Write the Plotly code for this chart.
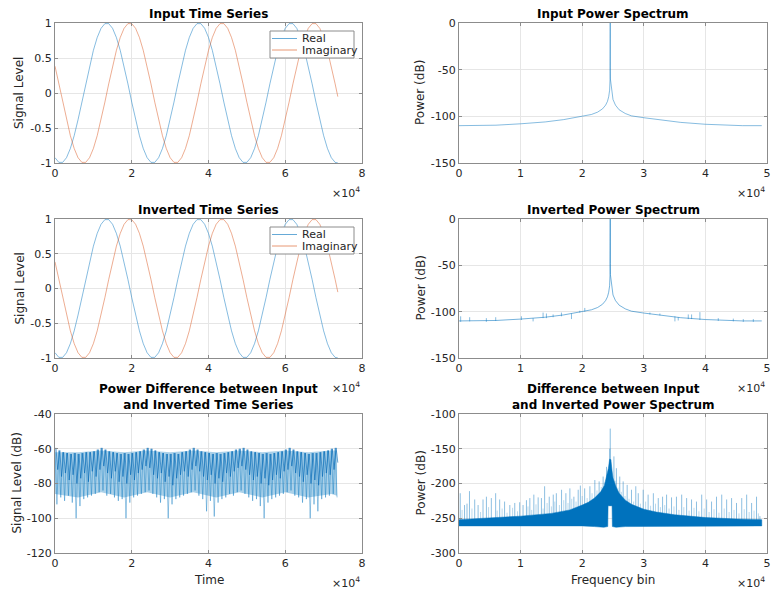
import plotly.graph_objects as go

# ---------------- data ----------------
time_index = list(range(0, 74000, 1000)) + [73700]

real_part = [
    -0.924, -0.991, -0.991, -0.924, -0.793, -0.609, -0.383, -0.131, 0.131, 0.383,
    0.609, 0.793, 0.924, 0.991, 0.991, 0.924, 0.793, 0.609, 0.383, 0.131,
    -0.131, -0.383, -0.609, -0.793, -0.924, -0.991, -0.991, -0.924, -0.793, -0.609,
    -0.383, -0.131, 0.131, 0.383, 0.609, 0.793, 0.924, 0.991, 0.991, 0.924,
    0.793, 0.609, 0.383, 0.131, -0.131, -0.383, -0.609, -0.793, -0.924, -0.991,
    -0.991, -0.924, -0.793, -0.609, -0.383, -0.131, 0.131, 0.383, 0.609, 0.793,
    0.924, 0.991, 0.991, 0.924, 0.793, 0.609, 0.383, 0.131, -0.131, -0.383,
    -0.609, -0.793, -0.924, -0.991, -0.999]
imag_part = [
    0.383, 0.131, -0.131, -0.383, -0.609, -0.793, -0.924, -0.991, -0.991, -0.924,
    -0.793, -0.609, -0.383, -0.131, 0.131, 0.383, 0.609, 0.793, 0.924, 0.991,
    0.991, 0.924, 0.793, 0.609, 0.383, 0.131, -0.131, -0.383, -0.609, -0.793,
    -0.924, -0.991, -0.991, -0.924, -0.793, -0.609, -0.383, -0.131, 0.131, 0.383,
    0.609, 0.793, 0.924, 0.991, 0.991, 0.924, 0.793, 0.609, 0.383, 0.131,
    -0.131, -0.383, -0.609, -0.793, -0.924, -0.991, -0.991, -0.924, -0.793, -0.609,
    -0.383, -0.131, 0.131, 0.383, 0.609, 0.793, 0.924, 0.991, 0.991, 0.924,
    0.793, 0.609, 0.383, 0.131, -0.052]
legend_labels = ['Real', 'Imaginary']

spec_bin = [0, 3000, 6000, 10000, 14000, 17000, 20000, 21500, 22500, 23300, 23800,
            24100, 24300, 24450, 24520, 24540, 24550, 24560, 24580, 24650, 24800,
            25000, 25400, 26000, 27000, 28000, 30000, 33000, 36000, 40000, 43000,
            46000, 49150]
spec_db = [-110, -110, -109.5, -108, -106, -103.5, -100, -98, -95.5, -92, -88,
           -84, -79, -72, -60, -48, 0, -48, -60, -64, -75,
           -82, -88, -93, -97, -99.5, -101.5, -104, -106.5, -108.5, -109.5,
           -110, -110]

inv_spike_bin = [270, 1730, 4440, 5960, 10130, 12030, 13650, 14190, 15280, 16630,
                 18260, 19610, 20420, 30990, 32610, 35050, 35590, 37220, 37760,
                 39110, 42090, 44530, 46150, 47780]
inv_spike_lo = [-111, -110.5, -111, -110, -109, -110.5, -107, -107, -106, -105,
                -108, -101, -100, -103, -104, -110.5, -109.5, -108, -108,
                -109, -110, -110.5, -111, -111]
inv_spike_hi = [-105, -106, -107, -106, -105, -107, -101, -102, -103, -101,
                -102, -99, -96, -101, -102, -105, -106, -103, -103,
                -100.5, -107, -107.5, -108, -108]

pd_peak_db = [
    -59.5, -61, -62, -62.5, -63, -62.5, -63, -62.5, -62, -62,
    -61.5, -60.5, -59.5, -60.5, -61.5, -62, -62.5, -63, -62.5, -63,
    -62.5, -62, -61.5, -60.5, -59.5, -60, -61, -62, -62.5, -63,
    -63, -62.5, -63, -62, -61.5, -60.5, -59.5, -60.5, -61.5, -62,
    -62.5, -63, -62.5, -63, -62.5, -62, -61.5, -60.5, -60, -59.5,
    -60.5, -61.5, -62, -62.5, -63, -62.5, -63, -62.5, -62, -61.5,
    -60.5, -59.5, -60.5, -61.5, -62, -62.5, -63, -62.5, -62.5, -62,
    -61.5, -61, -60, -59.5]
pd_deep_db = [
    -92, -88, -90, -87, -91, -100, -93, -89, -88, -87,
    -86, -85, -84, -87, -86, -88, -90, -89, -100, -91,
    -88, -87, -86, -85, -84, -86, -88, -91, -89, -100,
    -92, -89, -88, -87, -86, -85, -84, -87, -89, -96,
    -90, -99, -91, -89, -88, -86, -87, -85, -84, -86,
    -88, -90, -89, -93, -100, -91, -89, -88, -87, -86,
    -85, -84, -87, -88, -91, -89, -100, -92, -96, -89,
    -88, -87, -86, -88]
pd_shallow_db = [
    -72, -76, -74, -78, -75, -80, -77, -74, -79, -73,
    -76, -72, -70, -74, -77, -73, -79, -76, -80, -75,
    -78, -74, -72, -70, -71, -75, -77, -74, -79, -76,
    -81, -77, -75, -73, -76, -72, -70, -73, -76, -78,
    -75, -80, -77, -79, -74, -76, -73, -71, -70, -72,
    -75, -78, -76, -80, -77, -81, -78, -75, -77, -73,
    -72, -70, -74, -76, -79, -75, -80, -78, -81, -76,
    -74, -75, -72, -68]
pd_floor_time = [0, 6000, 12000, 18000, 24000, 30000, 36000, 42000, 48000, 54000, 60000, 66000, 72000, 73500]
pd_floor_db = [-86, -88, -85, -88, -85, -88, -85, -88, -85, -88, -85, -88, -86, -87]
pd_ceiling_db = [-62, -62, -61, -62, -61, -62, -61, -62, -61, -62, -61, -62, -61, -61]

diff_env_bin = [0, 5000, 10000, 15000, 18000, 20000, 21000, 22000, 23000, 23600, 24000,
                24250, 24450, 24650, 24850, 25000, 25500, 26000, 27000, 28000, 30000,
                32000, 35000, 40000, 45000, 49150]
diff_env_top_db = [-252, -250, -247, -243, -238, -231, -227, -221, -212, -203, -190,
                   -178, -165, -166, -182, -192, -205, -214, -224, -230, -237,
                   -241, -245, -249, -251, -252]
diff_floor_bin = [49150, 30000, 27000, 25500, 24900, 24850, 24200, 24150, 23500, 22000, 20000, 0]
diff_floor_db = [-261, -261, -262, -263, -262, -232, -232, -262, -263, -262, -261, -261]

diff_spike_bin = [200, 900, 1300, 1700, 2550, 3100, 3900, 4450, 5250, 5950,
                  6600, 7400, 8250, 9050, 9850, 10400, 10950, 11500, 12150, 12850,
                  13380, 13900, 14650, 15300, 15800, 16650, 17350, 18000, 18650, 19350,
                  19700, 20400, 21250, 22050, 22750, 23400, 23950, 25150, 25550, 26100,
                  26650, 27300, 28000, 28700, 29100, 29900, 30700, 31550, 32350, 33050,
                  33700, 34500, 35300, 36150, 36950, 37750, 38550, 39400, 40200, 41000,
                  41800, 42650, 43450, 44250, 45050, 45900, 46700, 47500, 48300, 48850]
diff_spike_db = [-214, -231, -229, -211, -223, -231, -223, -219, -221, -214,
                 -223, -226, -231, -228, -227, -231, -224, -221, -216, -220,
                 -221, -204, -219, -216, -214, -209, -214, -207, -219, -209,
                 -203, -207, -204, -195, -197, -190, -176, -161, -178, -190,
                 -197, -202, -209, -204, -214, -209, -216, -214, -221, -219,
                 -216, -220, -219, -216, -221, -223, -226, -216, -223, -226,
                 -219, -216, -223, -221, -228, -221, -216, -228, -219, -247]
diff_spike2_bin = [500, 2100, 3500, 4800, 6200, 7000, 7800, 8700, 9500, 11200,
                   11800, 12500, 13650, 14300, 15000, 15550, 16300, 17000, 17700, 18300,
                   19000, 20000, 20800, 21600, 22400, 23100, 23700, 25350, 25800, 26350,
                   26950, 27600, 28350, 29450, 30300, 31100, 31900, 32700, 33400, 34100,
                   34900, 35700, 36500, 37350, 38150, 38950, 39800, 40600, 41400, 42200,
                   43050, 43850, 44650, 45450, 46300, 47100, 47900, 48600]
diff_spike2_db = [-238, -236, -241, -234, -239, -236, -242, -235, -240, -233,
                  -238, -230, -236, -228, -233, -226, -231, -224, -228, -222,
                  -226, -218, -221, -214, -210, -205, -198, -196, -206, -212,
                  -218, -222, -226, -229, -226, -232, -229, -234, -231, -236,
                  -233, -238, -234, -239, -235, -240, -236, -241, -237, -242,
                  -236, -241, -238, -243, -237, -241, -239, -243]
diff_spike_base_db = -254
diff_peak_bin = [24350, 24480, 24550, 24620, 24750]
diff_peak_db = [-180, -150, -121, -165, -185]
diff_peak_base_db = -232

x_ticks_time = [0, 20000, 40000, 60000, 80000]
x_ticklabels_time = ['0', '2', '4', '6', '8']
x_ticks_freq = [0, 10000, 20000, 30000, 40000, 50000]
x_ticklabels_freq = ['0', '1', '2', '3', '4', '5']

BLUE = '#0072BD'
ORANGE = '#D95319'
BLUE_T = 'rgba(0,114,189,0.6)'
ORANGE_T = 'rgba(217,83,25,0.6)'
FONT = 'DejaVu Sans'
W, H = 773, 596


def segments(xs, lo, hi):
    sx, sy = [], []
    for i, x in enumerate(xs):
        l = lo[i] if isinstance(lo, list) else lo
        h = hi[i] if isinstance(hi, list) else hi
        sx += [x, x, None]
        sy += [l, h, None]
    return sx, sy


fig = go.Figure()

# time series (top-left, mid-left)
for xa, ya in [('x', 'y'), ('x3', 'y3')]:
    fig.add_trace(go.Scatter(x=time_index, y=real_part, mode='lines', name=legend_labels[0],
                             showlegend=False, line=dict(color=BLUE_T, width=0.8), xaxis=xa, yaxis=ya))
    fig.add_trace(go.Scatter(x=time_index, y=imag_part, mode='lines', name=legend_labels[1],
                             showlegend=False, line=dict(color=ORANGE_T, width=0.8), xaxis=xa, yaxis=ya))

# spectra
fig.add_trace(go.Scatter(x=spec_bin, y=spec_db, mode='lines', showlegend=False,
                         line=dict(color=BLUE_T, width=0.8), xaxis='x2', yaxis='y2'))
fig.add_trace(go.Scatter(x=spec_bin, y=spec_db, mode='lines', showlegend=False,
                         line=dict(color=BLUE_T, width=0.9), xaxis='x4', yaxis='y4'))
sx, sy = segments(inv_spike_bin, inv_spike_lo, inv_spike_hi)
fig.add_trace(go.Scatter(x=sx, y=sy, mode='lines', showlegend=False,
                         line=dict(color=BLUE_T, width=0.8), xaxis='x4', yaxis='y4'))

# power difference time series
fig.add_trace(go.Scatter(x=pd_floor_time, y=pd_floor_db, mode='lines', showlegend=False,
                         line=dict(width=0, color='rgba(0,0,0,0)'), xaxis='x5', yaxis='y5'))
fig.add_trace(go.Scatter(x=pd_floor_time, y=pd_ceiling_db, mode='lines', showlegend=False,
                         fill='tonexty', fillcolor='rgba(0,114,189,0.33)',
                         line=dict(width=0, color='rgba(0,0,0,0)'), xaxis='x5', yaxis='y5'))
zx, zy = [], []
for k, p in enumerate(pd_peak_db):
    zx += [k * 1000, k * 1000 + 500]
    zy += [p, pd_deep_db[k]]
fig.add_trace(go.Scatter(x=zx, y=zy, mode='lines', showlegend=False,
                         line=dict(color='rgba(0,114,189,0.5)', width=0.8), xaxis='x5', yaxis='y5'))
zx, zy = [], []
for k, p in enumerate(pd_peak_db):
    zx += [k * 1000 + 250, k * 1000 + 700]
    zy += [p, pd_shallow_db[k]]
fig.add_trace(go.Scatter(x=zx, y=zy, mode='lines', showlegend=False,
                         line=dict(color='rgba(0,100,180,0.75)', width=0.8), xaxis='x5', yaxis='y5'))

# difference power spectrum
sx, sy = segments(diff_spike2_bin, diff_spike_base_db, diff_spike2_db)
fig.add_trace(go.Scatter(x=sx, y=sy, mode='lines', showlegend=False,
                         line=dict(color='rgba(0,114,189,0.3)', width=0.9), xaxis='x6', yaxis='y6'))
sx, sy = segments(diff_spike_bin, diff_spike_base_db, diff_spike_db)
fig.add_trace(go.Scatter(x=sx, y=sy, mode='lines', showlegend=False,
                         line=dict(color='rgba(0,114,189,0.5)', width=0.9), xaxis='x6', yaxis='y6'))
sx, sy = segments(diff_peak_bin, diff_peak_base_db, diff_peak_db)
fig.add_trace(go.Scatter(x=sx, y=sy, mode='lines', showlegend=False,
                         line=dict(color='rgba(0,114,189,0.6)', width=0.8), xaxis='x6', yaxis='y6'))
fig.add_trace(go.Scatter(x=diff_env_bin + diff_floor_bin, y=diff_env_top_db + diff_floor_db,
                         mode='lines', fill='toself', fillcolor=BLUE, showlegend=False,
                         line=dict(color=BLUE, width=0.5), xaxis='x6', yaxis='y6'))

# ---------------- layout ----------------
XL = [55 / W, 362 / W]
XR = [459 / W, 767 / W]
YT = [1 - 163 / H, 1 - 23 / H]
YM = [1 - 358 / H, 1 - 219 / H]
YB = [1 - 553 / H, 1 - 414 / H]

def ax(domain, rng, tickvals, ticktext, anchor):
    return dict(domain=domain, range=rng, tickvals=tickvals, ticktext=ticktext, anchor=anchor,
                showline=True, linecolor='#8c8c8c', linewidth=1, mirror='ticks',
                ticks='inside', ticklen=3, tickcolor='#8c8c8c', automargin=False,
                showgrid=True, gridcolor='#e6e6e6', gridwidth=1, zeroline=False,
                tickfont=dict(family=FONT, size=11, color='#262626'), fixedrange=True)

ty1 = [-1, -0.5, 0, 0.5, 1]
tyl1 = ['-1', '-0.5', '0', '0.5', '1']
ty2 = [-150, -100, -50, 0]
ty5 = [-120, -100, -80, -60, -40]
ty6 = [-300, -250, -200, -150, -100]

layout = dict(
    width=W, height=H, margin=dict(l=0, r=0, t=0, b=0, pad=0), autosize=False,
    paper_bgcolor='white', plot_bgcolor='white', showlegend=False,
    font=dict(family=FONT, color='#262626'),
    xaxis=ax(XL, [0, 80000], x_ticks_time, x_ticklabels_time, 'y'),
    yaxis=ax(YT, [-1, 1], ty1, tyl1, 'x'),
    xaxis2=ax(XR, [0, 50000], x_ticks_freq, x_ticklabels_freq, 'y2'),
    yaxis2=ax(YT, [-150, 0], ty2, [str(v) for v in ty2], 'x2'),
    xaxis3=ax(XL, [0, 80000], x_ticks_time, x_ticklabels_time, 'y3'),
    yaxis3=ax(YM, [-1, 1], ty1, tyl1, 'x3'),
    xaxis4=ax(XR, [0, 50000], x_ticks_freq, x_ticklabels_freq, 'y4'),
    yaxis4=ax(YM, [-150, 0], ty2, [str(v) for v in ty2], 'x4'),
    xaxis5=ax(XL, [0, 80000], x_ticks_time, x_ticklabels_time, 'y5'),
    yaxis5=ax(YB, [-120, -40], ty5, [str(v) for v in ty5], 'x5'),
    xaxis6=ax(XR, [0, 50000], x_ticks_freq, x_ticklabels_freq, 'y6'),
    yaxis6=ax(YB, [-300, -100], ty6, [str(v) for v in ty6], 'x6'),
)

xcL = (XL[0] + XL[1]) / 2
xcR = (XR[0] + XR[1]) / 2

def py(pix):
    return 1 - pix / H

def px(pix):
    return pix / W

anns = []
shapes = []
def title(text, x, y):
    anns.append(dict(text=text, x=x, y=y, xref='paper', yref='paper', showarrow=False,
                     xanchor='center', yanchor='middle',
                     font=dict(family=FONT, size=12, color='black')))

def label(text, x, y, angle=0, size=12):
    anns.append(dict(text=text, x=x, y=y, xref='paper', yref='paper', showarrow=False,
                     xanchor='center', yanchor='middle', textangle=angle,
                     font=dict(family=FONT, size=size, color='#262626')))

title('<b>Input Time Series</b>', xcL, py(14))
title('<b>Input Power Spectrum</b>', xcR, py(14))
title('<b>Inverted Time Series</b>', xcL, py(210))
title('<b>Inverted Power Spectrum</b>', xcR, py(210))
title('<b>Power Difference between Input<br>and Inverted Time Series</b>', xcL, py(397))
title('<b>Difference between Input<br>and Inverted Power Spectrum</b>', xcR, py(397))

label('Signal Level', px(19), (YT[0] + YT[1]) / 2, -90)
label('Signal Level', px(19), (YM[0] + YM[1]) / 2, -90)
label('Signal Level (dB)', px(16), (YB[0] + YB[1]) / 2, -90)
label('Power (dB)', px(420), (YT[0] + YT[1]) / 2, -90)
label('Power (dB)', px(420), (YM[0] + YM[1]) / 2, -90)
label('Power (dB)', px(420), (YB[0] + YB[1]) / 2, -90)
label('Time', xcL, py(580))
label('Frequency bin', xcR, py(580))

for xr in [XL[1], XR[1]]:
    for yp in [192, 387, 582]:
        anns.append(dict(text='×10<sup>4</sup>', x=xr, y=py(yp), xref='paper', yref='paper',
                         showarrow=False, xanchor='right', yanchor='middle',
                         font=dict(family=FONT, size=11, color='#262626')))

# legend boxes (drawn as a MATLAB-style legend)
for top in [31, 227]:
    shapes.append(dict(type='rect', xref='paper', yref='paper', x0=px(270), x1=px(354),
                       y0=py(top + 27), y1=py(top), fillcolor='white',
                       line=dict(color='#8c8c8c', width=1), layer='above'))
    for i, (col, lab) in enumerate([(BLUE_T, legend_labels[0]), (ORANGE_T, legend_labels[1])]):
        yy = top + 7.5 + i * 11.5
        shapes.append(dict(type='line', xref='paper', yref='paper', x0=px(272), x1=px(297),
                           y0=py(yy), y1=py(yy), line=dict(color=col, width=1), layer='above'))
        anns.append(dict(text=lab, x=px(299.5), y=py(yy), xref='paper', yref='paper',
                         showarrow=False, xanchor='left', yanchor='middle',
                         font=dict(family=FONT, size=11, color='#262626')))

layout['annotations'] = anns
layout['shapes'] = shapes
fig.update_layout(**layout)
fig.write_html('out.html', config={'displayModeBar': False},
               post_script="document.body.style.margin='0px';document.body.style.overflow='hidden';")
